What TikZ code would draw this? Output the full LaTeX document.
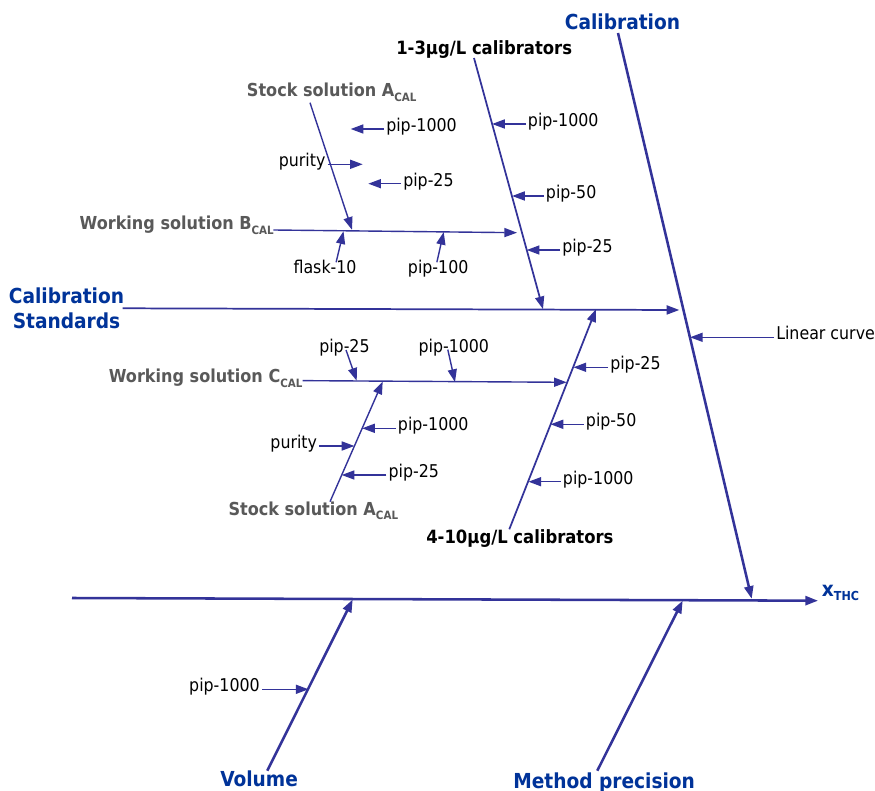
\documentclass[tikz,border=0pt]{standalone}
\usepackage{fontspec}
\setmainfont{DejaVu Sans Condensed}
\usetikzlibrary{arrows.meta}
\definecolor{lc}{RGB}{51,51,153}
\definecolor{tc}{RGB}{0,51,153}
\definecolor{gc}{RGB}{89,89,89}
\newcommand\subcal{\raisebox{-3.7pt}{\fontsize{8.6pt}{9pt}\selectfont CAL}}
\begin{document}
\begin{tikzpicture}[x=0.75pt,y=-0.75pt,
  tipa/.style={-{Triangle[length=9.5pt,width=6.8pt]}},
  arrs/.style={tipa,draw=lc,line width=1.05pt},
  bonel/.style={tipa,draw=lc,line width=1.3pt},
  mainl/.style={tipa,draw=lc,line width=1.9pt},
  lab/.style={font=\fontsize{13.2pt}{15pt}\selectfont,inner xsep=1.5pt,inner ysep=0pt,text height=10.6pt,text depth=6.6pt},
  ttl/.style={font=\bfseries\fontsize{15.5pt}{18.75pt}\selectfont,text=tc,inner sep=0pt},
  glab/.style={font=\bfseries\fontsize{13.4pt}{15pt}\selectfont,text=gc,inner sep=0pt},
  blab/.style={font=\bfseries\fontsize{13.7pt}{16pt}\selectfont,inner sep=0pt}]
\fill[white] (0,0) rectangle (875,791);
\useasboundingbox (0,0) rectangle (875,791);

% titles
\node[ttl,anchor=base] (cal) at (622.5,30) {Calibration};
\node[ttl,anchor=north,align=center] (cs) at (66.5,287.7) {Calibration\\Standards};
\node[ttl,anchor=base west] (vol) at (220,786.7) {Volume};
\node[ttl,anchor=base west] (mp) at (513,788) {Method precision};
\node[ttl,anchor=base west] (xt) at (821.7,596.7) {x\raisebox{-3pt}{\fontsize{9.3pt}{10pt}\selectfont THC}};

% sub-branch labels
\node[blab,anchor=base west] (c13) at (396,54.3) {1-3µg/L calibrators};
\node[blab,anchor=base west] (c410) at (426,543.3) {4-10µg/L calibrators};
\node[glab,anchor=base west] (sa1) at (246.7,96.7) {Stock solution A\subcal};
\node[glab,anchor=base east] (wb) at (274,230) {Working solution B\subcal};
\node[glab,anchor=base east] (wc) at (302.7,382.5) {Working solution C\subcal};
\node[glab,anchor=base west] (sa2) at (228.3,515) {Stock solution A\subcal};

% main lines
\coordinate (sL) at (72,598);
\coordinate (sR) at (818,600.7);
\draw[mainl] (sL) -- (sR);
\coordinate (cTop) at (618,33);
\coordinate (cTip) at (751.7,598.8);
\draw[mainl] (cTop) -- (cTip);
\coordinate (volS) at (267.3,770.7);
\coordinate (volT) at (352.7,599.5);
\draw[mainl] (volS) -- (volT);
\coordinate (mpS) at (597.3,770.7);
\coordinate (mpT) at (682.7,600.6);
\draw[mainl] (mpS) -- (mpT);
\coordinate (csS) at (122.7,308.3);
\coordinate (csT) at (679.3,310);
\draw[bonel] (csS) -- (csT);

% branches
\coordinate (b13S) at (474,58);
\coordinate (b13T) at (543,309.2);
\draw[bonel] (b13S) -- (b13T);
\coordinate (b410S) at (509.3,529.3);
\coordinate (b410T) at (596,309.2);
\draw[bonel] (b410S) -- (b410T);
\coordinate (wbT) at (517,232.7);
\draw[arrs] ([xshift=-0.5pt]wb.base east) -- (wbT);
\coordinate (sa1S) at (310,102.7);
\coordinate (sa1T) at (352,229.8);
\draw[arrs] (sa1S) -- (sa1T);
\coordinate (wcT) at (566.7,382.3);
\draw[arrs] ([yshift=1.4pt]wc.base east) -- (wcT);
\coordinate (sa2S) at (330,501.7);
\coordinate (sa2T) at (382.7,381.5);
\draw[arrs] (sa2S) -- (sa2T);

% small causes, upper
\node[lab,anchor=west] (p1) at (525.7,124) {pip-1000};
\coordinate (p1t) at (492.1,124);
\draw[arrs] (p1.west) -- (p1t);
\node[lab,anchor=west] (p2) at (543.7,196) {pip-50};
\coordinate (p2t) at (512.1,196);
\draw[arrs] (p2.west) -- (p2t);
\node[lab,anchor=west] (p3) at (560,250) {pip-25};
\coordinate (p3t) at (526.8,250);
\draw[arrs] (p3.west) -- (p3t);
\node[lab,anchor=west] (p4) at (384,129) {pip-1000};
\coordinate (p4t) at (350.7,129);
\draw[arrs] (p4.west) -- (p4t);
\node[lab,anchor=east] (pu1) at (327.7,164.3) {purity};
\coordinate (pu1t) at (362.7,164.3);
\draw[arrs] (pu1.east) -- (pu1t);
\node[lab,anchor=west] (p6) at (401,183.7) {pip-25};
\coordinate (p6t) at (368.3,183.7);
\draw[arrs] (p6.west) -- (p6t);
\node[lab,anchor=base west] (fl) at (291.3,274) {flask-10};
\coordinate (flt) at (343.5,231.3);
\draw[arrs] ([xshift=8.3pt,yshift=-2pt]fl.north) -- (flt);
\node[lab,anchor=base west] (p100) at (405.7,274) {pip-100};
\coordinate (p100t) at (443.7,232);
\draw[arrs] ([xshift=-1pt,yshift=-2pt]p100.north) -- (p100t);

% small causes, lower
\node[lab,anchor=base west] (p9) at (317,352.7) {pip-25};
\coordinate (p9t) at (356.7,380.7);
\draw[arrs] ([xshift=1.2pt]p9.center) -- (p9t);
\node[lab,anchor=base west] (p10) at (416.3,352.3) {pip-1000};
\coordinate (p10t) at (455,382);
\draw[arrs] ([xshift=-4.5pt]p10.center) -- (p10t);
\node[lab,anchor=west] (p11) at (395.7,428.3) {pip-1000};
\coordinate (p11t) at (362.2,428.3);
\draw[arrs] (p11.west) -- (p11t);
\node[lab,anchor=east] (pu2) at (319.3,446) {purity};
\coordinate (pu2t) at (354.4,446);
\draw[arrs] (pu2.east) -- (pu2t);
\node[lab,anchor=west] (p13) at (386.3,475) {pip-25};
\coordinate (p13t) at (341.7,475);
\draw[arrs] (p13.west) -- (p13t);
\node[lab,anchor=west] (p14) at (608,367.3) {pip-25};
\coordinate (p14t) at (573.5,367.3);
\draw[arrs] (p14.west) -- (p14t);
\node[lab,anchor=west] (p15) at (583.7,424.3) {pip-50};
\coordinate (p15t) at (550.6,424.3);
\draw[arrs] (p15.west) -- (p15t);
\node[lab,anchor=west] (p16) at (560.7,481.7) {pip-1000};
\coordinate (p16t) at (528.5,481.7);
\draw[arrs] (p16.west) -- (p16t);
\node[lab,anchor=west] (lcv) at (774,337.3) {Linear curve};
\coordinate (lcvt) at (690,337.3);
\draw[arrs] (lcv.west) -- (lcvt);
\node[lab,anchor=east] (pv) at (262,689.3) {pip-1000};
\coordinate (pvt) at (308.5,689.3);
\draw[arrs] (pv.east) -- (pvt);
\end{tikzpicture}
\end{document}
